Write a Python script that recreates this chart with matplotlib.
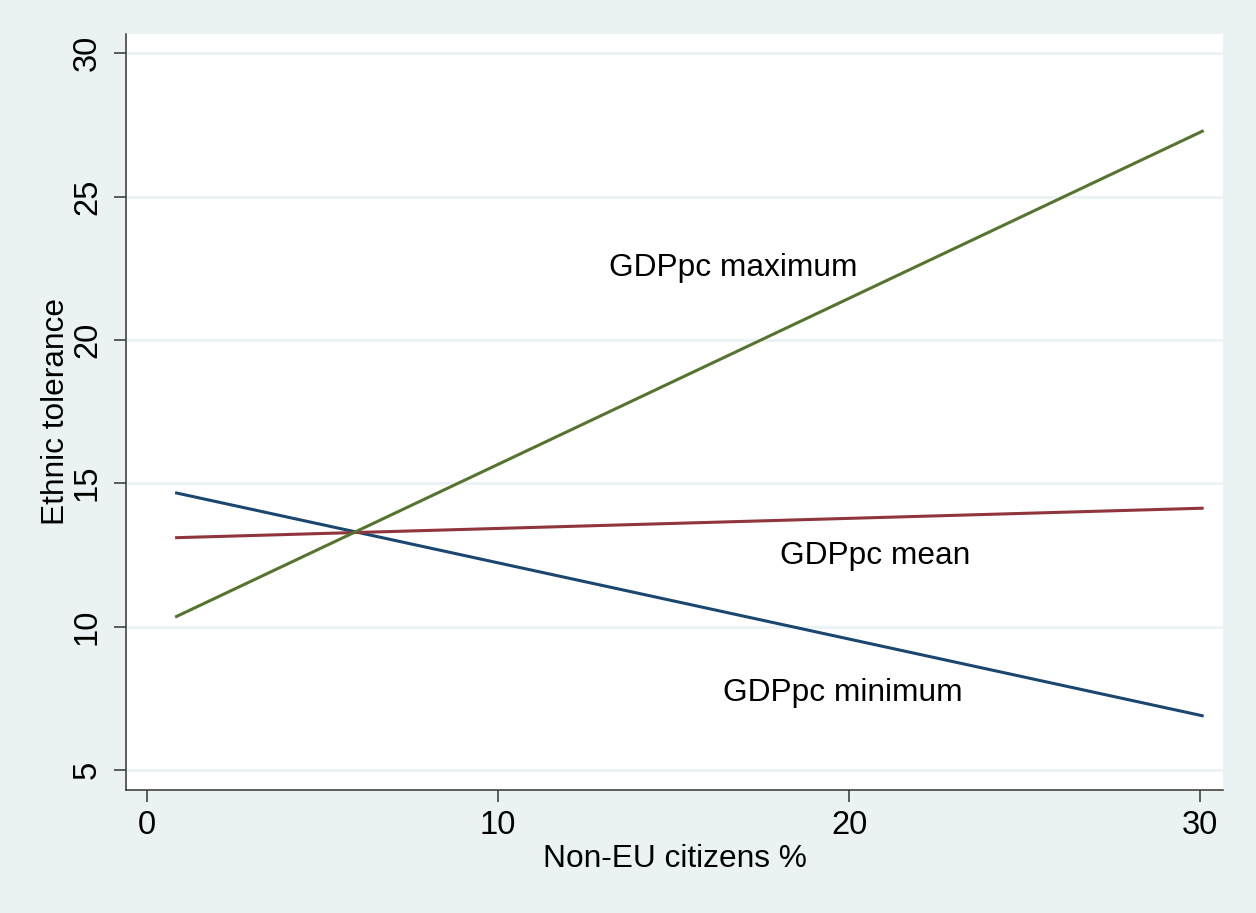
import matplotlib
matplotlib.use("Agg")
import matplotlib.pyplot as plt

# ---------------------------------------------------------------------------
# Data (predicted lines, two endpoints each)
# ---------------------------------------------------------------------------
noneu_pct = [0.8, 30.1]
gdp_min = [14.67, 6.88]
gdp_mean = [13.10, 14.13]
gdp_max = [10.33, 27.30]

x_ticks = [0, 10, 20, 30]
y_ticks = [5, 10, 15, 20, 25, 30]

series_labels = ["GDPpc minimum", "GDPpc mean", "GDPpc maximum"]
label_pos_x = [19.83, 20.74, 16.7]
label_pos_y = [7.69, 12.46, 22.5]

# Stata s2color palette
NAVY = "#1A476F"
MAROON = "#90353B"
GREEN = "#55752F"
BG = "#EAF2F3"
AXIS = "#333333"

plt.rcParams["font.family"] = ["Liberation Sans", "DejaVu Sans"]

fig = plt.figure(figsize=(12.56, 9.13), dpi=100, facecolor=BG)
ax = fig.add_axes([0.1003, 0.1347, 0.8734, 0.8281])
ax.set_facecolor("white")

for yv, color in zip([gdp_min, gdp_mean, gdp_max], [NAVY, MAROON, GREEN]):
    ax.plot(noneu_pct, yv, color=color, linewidth=2.2, solid_capstyle="butt")

for txt, tx, ty in zip(series_labels, label_pos_x, label_pos_y):
    ax.text(tx, ty, txt, fontsize=22.8, ha="center", va="center", color="black")

ax.set_xlim(-0.6, 30.65)
ax.set_ylim(4.3, 30.67)
ax.set_xticks(x_ticks)
ax.set_yticks(y_ticks)

# ── axes styling ───────────────────────────────────────────────────────────
ax.grid(axis="y", color=BG, linewidth=2.0)
ax.set_axisbelow(True)
for side in ["top", "right"]:
    ax.spines[side].set_visible(False)
for side in ["left", "bottom"]:
    ax.spines[side].set_color(AXIS)
    ax.spines[side].set_linewidth(1.1)

ax.tick_params(axis="both", direction="out", length=8.6, width=1.1,
               color=AXIS, labelsize=23.5, labelcolor="black")
ax.tick_params(axis="y", pad=8)
ax.tick_params(axis="x", pad=6)
for lbl in ax.get_yticklabels():
    lbl.set_rotation(90)
    lbl.set_va("center")

ax.set_xlabel("Non-EU citizens %", fontsize=22.8, labelpad=2)
ax.set_ylabel("Ethnic tolerance", fontsize=22.8, labelpad=1)

fig.savefig("out.png", dpi=100, facecolor=BG)
